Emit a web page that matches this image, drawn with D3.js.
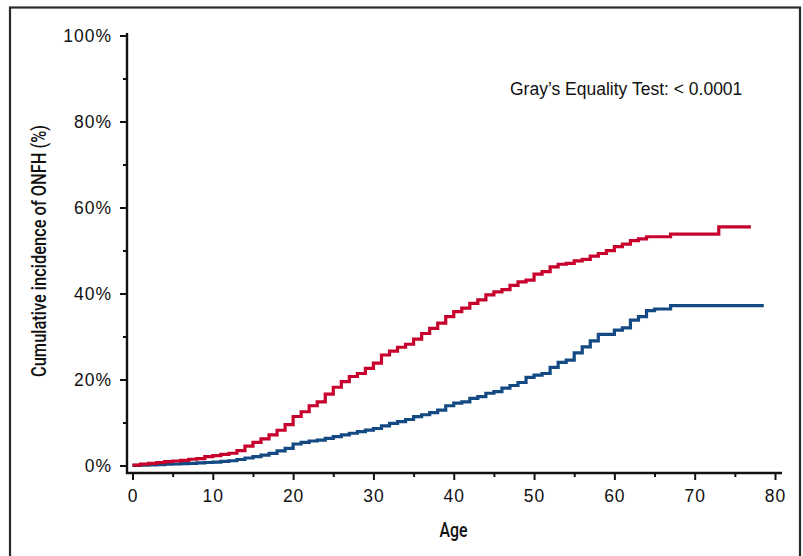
<!DOCTYPE html>
<html>
<head>
<meta charset="utf-8">
<script src="https://cdn.jsdelivr.net/npm/d3@7"></script>
<style>
	body { margin: 0; background: #fff; }
	svg { display: block; }
	.tick text { font-family: 'Liberation Sans', Arial, sans-serif; fill: #111; }
	.axis-title { font-family: Roboto, 'DejaVu Sans Condensed', sans-serif; font-weight: 500; fill: #111; }
</style>
</head>
<body>
<svg id="chart"></svg>
<script>
// cumulative incidence of ONFH (age at step start, %)
const redAge = [0, 1, 2, 3, 4, 5, 6, 7, 8, 9, 10, 11, 12, 13, 14, 15, 16, 17, 18, 19,
	20, 21, 22, 23, 24, 25, 26, 27, 28, 29, 30, 31, 32, 33, 34, 35, 36, 37, 38, 39,
	40, 41, 42, 43, 44, 45, 46, 47, 48, 49, 50, 51, 52, 53, 54, 55, 56, 57, 58, 59,
	60, 61, 62, 63, 64, 67, 73, 77];
const redPct = [0.1, 0.3, 0.5, 0.65, 0.9, 1.05, 1.2, 1.45, 1.6, 2.05, 2.3, 2.6, 2.85, 3.45, 4.5, 5.4, 6.2, 7.1, 8.2, 9.5,
	11.4, 12.5, 13.9, 14.8, 16.6, 18.2, 19.5, 20.7, 21.4, 22.6, 23.8, 25.7, 26.6, 27.5, 28.2, 29.4, 30.7, 31.9, 33.1, 34.6,
	35.8, 36.6, 37.7, 38.5, 39.7, 40.4, 40.9, 41.9, 42.7, 43.1, 44.5, 45.1, 46.2, 46.8, 47.0, 47.6, 47.95, 48.7, 49.3, 49.95,
	50.9, 51.5, 52.3, 52.7, 53.2, 53.8, 55.5, 55.5];

const blueAge = [0, 1, 2, 3, 4, 5, 6, 7, 8, 9, 10, 11, 12, 13, 14, 15, 16, 17, 18, 19,
	20, 21, 22, 23, 24, 25, 26, 27, 28, 29, 30, 31, 32, 33, 34, 35, 36, 37, 38, 39,
	40, 41, 42, 43, 44, 45, 46, 47, 48, 49, 50, 51, 52, 53, 54, 55, 56, 57, 58, 60,
	61, 62, 63, 64, 65, 67, 78.6];
const bluePct = [0.05, 0.1, 0.15, 0.2, 0.3, 0.35, 0.45, 0.5, 0.6, 0.7, 0.8, 0.95, 1.1, 1.4, 1.75, 2.05, 2.4, 2.8, 3.4, 4.0,
	5.0, 5.4, 5.7, 5.9, 6.3, 6.7, 7.1, 7.5, 7.9, 8.25, 8.6, 9.2, 9.8, 10.2, 10.7, 11.35, 11.8, 12.3, 12.9, 13.9,
	14.5, 14.8, 15.6, 16.0, 16.8, 17.2, 18.0, 18.6, 19.3, 20.5, 21.0, 21.4, 22.8, 24.0, 24.5, 26.2, 27.6, 29.0, 30.5, 31.5,
	32.0, 33.8, 34.6, 36.0, 36.4, 37.2, 37.2];

const xTicks = [0, 10, 20, 30, 40, 50, 60, 70, 80];
const xMinorTicks = [5, 15, 25, 35, 45, 55, 65, 75];
const yTicks = [0, 20, 40, 60, 80, 100];
const yMinorTicks = [10, 30, 50, 70, 90];

const testLabel = 'Gray\u2019s Equality Test: < 0.0001';
const xTitle = 'Age';
const yTitle = 'Cumulative incidence of ONFH (%)';

const RED = '#c8002c';
const BLUE = '#134a84';
const width = 803;
const height = 556;

const $svg = d3.select('#chart').attr('width', width).attr('height', height);

const x = d3.scaleLinear().domain([0, 80]).range([132.5, 775]);
const y = d3.scaleLinear().domain([0, 100]).range([465.5, 35.5]);

const axisX = 127; // where the y axis sits
const axisY = 473; // where the x axis sits

function drawFrame() {
	$svg.append('rect')
		.attr('x', 10)
		.attr('y', 7.5)
		.attr('width', 790)
		.attr('height', 600)
		.attr('fill', 'none')
		.attr('stroke', '#2a2a2a')
		.attr('stroke-width', 2.2);
}

function drawAxes() {
	const $yMinor = $svg.append('g').attr('transform', `translate(${axisX},0)`)
		.call(d3.axisLeft(y).tickValues(yMinorTicks).tickSize(4).tickFormat(''));
	$yMinor.select('.domain').remove();

	const $yAxis = $svg.append('g').attr('transform', `translate(${axisX},0)`)
		.call(d3.axisLeft(y).tickValues(yTicks).tickSize(7).tickPadding(8).tickFormat(d => `${d}%`));
	$yAxis.select('.domain').remove();
	$yAxis.selectAll('text').style('font-size', '17.5px').attr('letter-spacing', '1px');

	const $xMinor = $svg.append('g').attr('transform', `translate(0,${axisY})`)
		.call(d3.axisBottom(x).tickValues(xMinorTicks).tickSize(4).tickFormat(''));
	$xMinor.select('.domain').remove();

	const $xAxis = $svg.append('g').attr('transform', `translate(0,${axisY})`)
		.call(d3.axisBottom(x).tickValues(xTicks).tickSize(7).tickPadding(10));
	$xAxis.select('.domain').remove();
	$xAxis.selectAll('text').style('font-size', '17.5px').attr('letter-spacing', '1px');

	$svg.selectAll('.tick line').attr('stroke', '#111').attr('stroke-width', 2);

	// axis lines meet in the corner
	$svg.append('line')
		.attr('x1', axisX).attr('x2', axisX)
		.attr('y1', y(100) - 2.5).attr('y2', axisY + 1)
		.attr('stroke', '#111').attr('stroke-width', 2.4);
	$svg.append('line')
		.attr('x1', axisX - 1).attr('x2', x(80) + 7)
		.attr('y1', axisY).attr('y2', axisY)
		.attr('stroke', '#111').attr('stroke-width', 2.4);
}

function drawCurve(ages, pcts, color) {
	const pts = ages.map((a, i) => [a, pcts[i]]);
	const line = d3.line()
		.x(d => x(d[0]))
		.y(d => y(d[1]))
		.curve(d3.curveStepAfter);

	$svg.append('path')
		.datum(pts)
		.attr('d', line)
		.attr('fill', 'none')
		.attr('stroke', color)
		.attr('stroke-width', 3.2)
		.attr('stroke-linejoin', 'miter');
}

function drawLabels() {
	$svg.append('text')
		.attr('x', 510)
		.attr('y', 94.5)
		.style('font-family', "'Liberation Sans', Arial, sans-serif")
		.style('font-size', '17.5px')
		.attr('fill', '#111')
		.text(testLabel);

	$svg.append('text')
		.attr('class', 'axis-title')
		.attr('x', 453.5)
		.attr('y', 537)
		.attr('text-anchor', 'middle')
		.style('font-size', '21px')
		.attr('textLength', 28)
		.attr('lengthAdjust', 'spacingAndGlyphs')
		.text(xTitle);

	$svg.append('text')
		.attr('class', 'axis-title')
		.attr('transform', 'translate(46,251) rotate(-90)')
		.attr('text-anchor', 'middle')
		.style('font-size', '21px')
		.attr('textLength', 252)
		.attr('lengthAdjust', 'spacingAndGlyphs')
		.text(yTitle);
}

drawFrame();
drawCurve(blueAge, bluePct, BLUE);
drawCurve(redAge, redPct, RED);
drawAxes();
drawLabels();
</script>
</body>
</html>
